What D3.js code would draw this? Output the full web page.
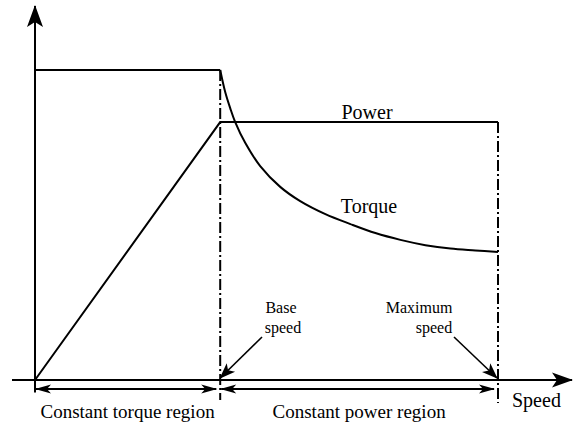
<!DOCTYPE html>
<meta charset="utf-8">
<head>
  <title>Torque and power vs speed</title>
</head>
<style>
  body { margin: 0; background: #fff; }
  svg { display: block; }
  text { font-family: "Liberation Serif", "Times New Roman", serif; fill: #000; }
  .line { fill: none; stroke: #000; stroke-width: 2px; }
  .axis { fill: none; stroke: #000; stroke-width: 2px; }
  .limit { fill: none; stroke: #000; stroke-width: 2px; stroke-dasharray: 11,3,2,3; }
</style>
<body>
<script src="https://cdn.jsdelivr.net/npm/d3@7"></script>
<script>
  // speeds are in units of base speed, torque/power in units of rated torque
  var baseSpeed = 1;
  var maxSpeed = 2.5;

  // constant torque segment and power ramp / plateau
  var constTorqueSpeed = [0, 1];
  var constTorqueValue = [1, 1];
  var powerSpeed = [0, 1, 2.5];
  var powerValue = [0, 0.832, 0.832];

  // field weakening torque
  var torqueSpeed = [1, 1.027, 1.054, 1.081, 1.135, 1.216, 1.324, 1.432, 1.568, 1.703, 1.838, 1.973, 2.108, 2.243, 2.378, 2.5];
  var torqueValue = [1, 0.929, 0.877, 0.832, 0.765, 0.69, 0.623, 0.577, 0.535, 0.503, 0.474, 0.452, 0.435, 0.424, 0.418, 0.413];

  var regionLabels = ["Constant torque region", "Constant power region"];

  var width = 580, height = 428;

  var x = d3.scaleLinear().domain([0, maxSpeed]).range([35, 498]);
  var y = d3.scaleLinear().domain([0, 1]).range([380, 70]);

  var svg = d3.select("body").append("svg")
    .attr("width", width)
    .attr("height", height);

  // arrow heads
  var defs = svg.append("defs");
  function head(id, len, half, notch) {
    defs.append("marker")
      .attr("id", id)
      .attr("markerUnits", "userSpaceOnUse")
      .attr("viewBox", (-len - 1) + " " + (-half - 1) + " " + (len + 2) + " " + (2 * half + 2))
      .attr("markerWidth", len + 2)
      .attr("markerHeight", 2 * half + 2)
      .attr("refX", -1)
      .attr("refY", 0)
      .attr("orient", "auto-start-reverse")
      .append("path")
      .attr("d", "M0,0L" + (-len) + "," + (-half) + "L" + (-len + notch) + ",0L" + (-len) + "," + half + "Z")
      .attr("fill", "#000");
  }
  head("axisHead", 22, 8, 5);
  head("xHead", 21, 7.5, 5);
  head("smallHead", 16, 4.5, 4);
  head("noteHead", 16, 6, 4);

  var line = d3.line()
    .x(function(d) { return x(d[0]); })
    .y(function(d) { return y(d[1]); });

  // axes
  svg.append("line").attr("class", "axis")
    .attr("x1", x(0)).attr("y1", y(-0.04))
    .attr("x2", x(0)).attr("y2", 6)
    .attr("marker-end", "url(#axisHead)");
  svg.append("line").attr("class", "axis")
    .attr("x1", 12).attr("y1", y(0))
    .attr("x2", 572).attr("y2", y(0))
    .attr("marker-end", "url(#xHead)");

  // dash-dot limits at base and max speed
  svg.append("line").attr("class", "limit")
    .attr("x1", x(baseSpeed)).attr("y1", y(1))
    .attr("x2", x(baseSpeed)).attr("y2", 400);
  svg.append("line").attr("class", "limit")
    .attr("x1", x(maxSpeed)).attr("y1", y(powerValue[2]))
    .attr("x2", x(maxSpeed)).attr("y2", 403);

  // torque
  svg.append("path").attr("class", "line")
    .attr("d", line(d3.zip(constTorqueSpeed, constTorqueValue)));
  svg.append("path").attr("class", "line")
    .attr("d", line.curve(d3.curveCatmullRom.alpha(0.5))(d3.zip(torqueSpeed, torqueValue)));
  line.curve(d3.curveLinear);

  // power
  svg.append("path").attr("class", "line")
    .attr("d", line(d3.zip(powerSpeed, powerValue)));

  svg.append("text").attr("x", 367).attr("y", 119)
    .attr("text-anchor", "middle").style("font-size", "20px").text("Power");
  svg.append("text").attr("x", 369).attr("y", 213)
    .attr("text-anchor", "middle").style("font-size", "20px").text("Torque");

  // region arrows
  var regions = [[0, baseSpeed], [baseSpeed, maxSpeed]];
  svg.selectAll(".region").data(regions).enter().append("line")
    .attr("class", "axis region")
    .attr("x1", function(d) { return x(d[0]) + 1; })
    .attr("x2", function(d) { return x(d[1]) - 4; })
    .attr("y1", 389).attr("y2", 389)
    .attr("marker-start", "url(#smallHead)")
    .attr("marker-end", "url(#smallHead)");

  svg.selectAll(".regionLabel").data(regions).enter().append("text")
    .attr("class", "regionLabel")
    .attr("x", function(d) { return (x(d[0]) + x(d[1])) / 2; })
    .attr("y", 418)
    .attr("text-anchor", "middle")
    .style("font-size", "19px")
    .text(function(d, i) { return regionLabels[i]; });

  svg.append("text").attr("x", 512).attr("y", 407)
    .style("font-size", "20px").text("Speed");

  // base / maximum speed notes
  svg.append("text").attr("x", 281).attr("y", 313)
    .attr("text-anchor", "middle").style("font-size", "16px").text("Base");
  svg.append("text").attr("x", 283).attr("y", 333)
    .attr("text-anchor", "middle").style("font-size", "16px").text("speed");
  svg.append("line").attr("class", "axis").style("stroke-width", "1.6px")
    .attr("x1", 262).attr("y1", 337)
    .attr("x2", x(baseSpeed)).attr("y2", 378)
    .attr("marker-end", "url(#noteHead)");

  svg.append("text").attr("x", 419).attr("y", 313)
    .attr("text-anchor", "middle").style("font-size", "16px").text("Maximum");
  svg.append("text").attr("x", 434).attr("y", 333)
    .attr("text-anchor", "middle").style("font-size", "16px").text("speed");
  svg.append("line").attr("class", "axis").style("stroke-width", "1.6px")
    .attr("x1", 454).attr("y1", 337)
    .attr("x2", x(maxSpeed) - 1).attr("y2", 378)
    .attr("marker-end", "url(#noteHead)");
</script>
</body>
</html>
